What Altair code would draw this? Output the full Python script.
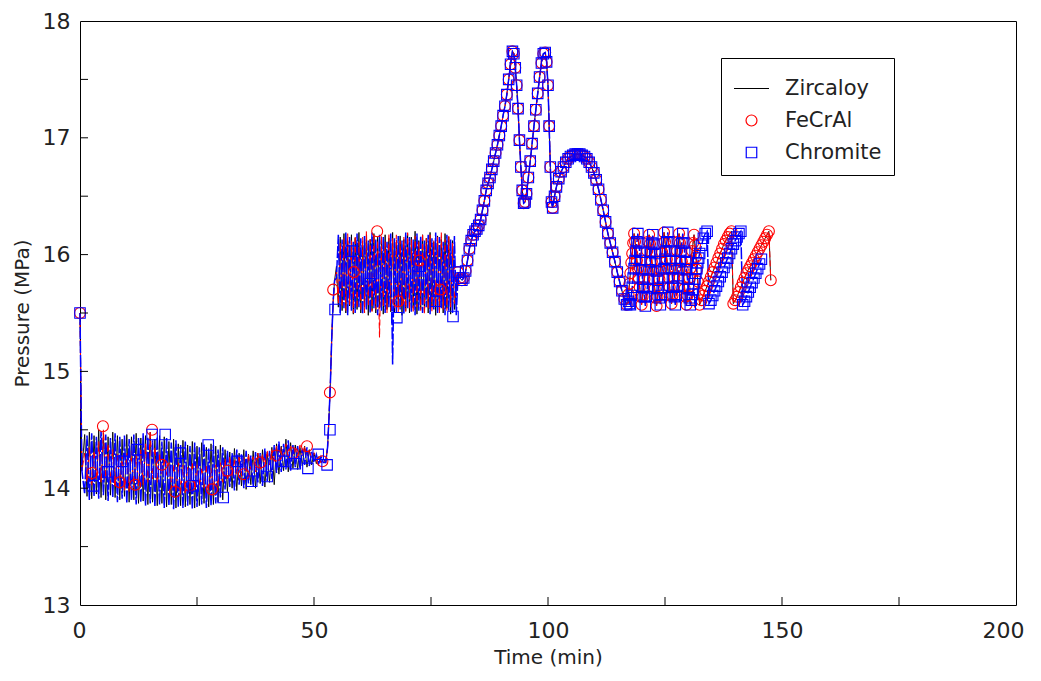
import altair as alt
import pandas as pd

# ---------------- series names ----------------
names = ["Zircaloy", "FeCrAl", "Chromite"]
colors = ["#000000", "#ff0000", "#0000ff"]

# ---------------- segment A: 0 - 52 min (oscillating, ~14 MPa) ----------------
a0_t = [0.0, 0.4]
a0_p = [15.5, 14.15]

a_t = [1.0, 1.5, 2.0, 2.5, 3.0, 3.5, 4.0, 4.5, 5.0, 5.5,
       6.0, 6.5, 7.0, 7.5, 8.0, 8.5, 9.0, 9.5, 10.0, 10.5,
       11.0, 11.5, 12.0, 12.5, 13.0, 13.5, 14.0, 14.5, 15.0, 15.5,
       16.0, 16.5, 17.0, 17.5, 18.0, 18.5, 19.0, 19.5, 20.0, 20.5,
       21.0, 21.5, 22.0, 22.5, 23.0, 23.5, 24.0, 24.5, 25.0, 25.5,
       26.0, 26.5, 27.0, 27.5, 28.0, 28.5, 29.0, 29.5, 30.0, 30.5,
       31.0, 31.5, 32.0, 32.5, 33.0, 33.5, 34.0, 34.5, 35.0, 35.5,
       36.0, 36.5, 37.0, 37.5, 38.0, 38.5, 39.0, 39.5, 40.0, 40.5,
       41.0, 41.5, 42.0, 42.5, 43.0, 43.5, 44.0, 44.5, 45.0, 45.5,
       46.0, 46.5, 47.0, 47.5, 48.0, 48.5, 49.0, 49.5, 50.0, 50.5,
       51.0, 51.5, 52.0]

zirc_a = [14.46, 13.93, 14.48, 13.91, 14.45, 13.95, 14.50, 13.92, 14.47, 13.90,
          14.44, 13.94, 14.48, 13.92, 14.45, 13.90, 14.42, 13.93, 14.46, 13.88,
          14.44, 13.90, 14.47, 13.87, 14.43, 13.89, 14.45, 13.86, 14.48, 13.88,
          14.42, 13.85, 14.45, 13.87, 14.44, 13.84, 14.40, 13.86, 14.42, 13.83,
          14.38, 13.85, 14.41, 13.84, 14.37, 13.86, 14.40, 13.83, 14.36, 13.85,
          14.39, 13.87, 14.35, 13.84, 14.38, 13.86, 14.36, 13.88, 14.37, 13.90,
          14.33, 13.97, 14.31, 14.00, 14.34, 13.98, 14.30, 14.02, 14.33, 13.99,
          14.29, 14.03, 14.32, 14.00, 14.30, 14.04, 14.33, 14.01, 14.31, 14.05,
          14.35, 14.03, 14.38, 14.12, 14.36, 14.15, 14.42, 14.14, 14.39, 14.17,
          14.37, 14.16, 14.35, 14.19, 14.36, 14.18, 14.33, 14.20, 14.30, 14.21,
          14.27, 14.22, 14.25]

fecral_a = [14.30, 14.05, 14.35, 14.02, 14.32, 14.08, 14.40, 14.05, 14.50, 14.08,
            14.38, 14.04, 14.33, 14.02, 14.30, 14.00, 14.28, 13.98, 14.30, 13.97,
            14.32, 14.00, 14.29, 14.02, 14.33, 14.03, 14.38, 14.05, 14.48, 14.08,
            14.35, 14.05, 14.30, 14.12, 14.25, 14.10, 14.22, 14.00, 14.20, 13.97,
            14.22, 13.98, 14.20, 13.96, 14.18, 13.98, 14.22, 14.00, 14.20, 14.02,
            14.18, 14.00, 14.20, 13.98, 14.17, 13.99, 14.20, 14.02, 14.22, 14.05,
            14.25, 14.08, 14.27, 14.10, 14.25, 14.12, 14.28, 14.10, 14.26, 14.13,
            14.29, 14.15, 14.27, 14.14, 14.30, 14.16, 14.29, 14.18, 14.32, 14.20,
            14.33, 14.22, 14.36, 14.24, 14.35, 14.26, 14.38, 14.25, 14.36, 14.27,
            14.35, 14.26, 14.37, 14.28, 14.36, 14.27, 14.33, 14.25, 14.30, 14.24,
            14.27, 14.22, 14.24]

chrom_a = [13.95, 14.45, 13.90, 14.47, 13.93, 14.44, 13.91, 14.49, 13.94, 14.46,
           13.89, 14.43, 13.92, 14.47, 13.88, 14.44, 13.91, 14.45, 13.87, 14.42,
           13.90, 14.46, 13.86, 14.43, 13.88, 14.47, 13.85, 14.44, 13.87, 14.41,
           13.84, 14.44, 13.86, 14.40, 13.83, 14.43, 13.85, 14.39, 13.82, 14.41,
           13.84, 14.37, 13.83, 14.40, 13.85, 14.36, 13.82, 14.39, 13.84, 14.35,
           13.86, 14.38, 13.83, 14.34, 13.85, 14.37, 13.87, 14.33, 13.92, 14.35,
           13.99, 14.32, 14.01, 14.30, 13.98, 14.33, 14.03, 14.29, 14.00, 14.32,
           14.04, 14.28, 14.01, 14.31, 14.05, 14.30, 14.02, 14.34, 14.06, 14.32,
           14.08, 14.37, 14.13, 14.40, 14.14, 14.38, 14.16, 14.41, 14.15, 14.37,
           14.18, 14.36, 14.17, 14.34, 14.20, 14.35, 14.19, 14.31, 14.22, 14.29,
           14.21, 14.27, 14.22]

# ---------------- segment B: pressure jump (shared) ----------------
b_t = [52.5, 52.9, 53.2, 53.5, 53.8, 54.1, 54.4]
b_p = [14.22, 14.35, 14.60, 14.90, 15.30, 15.60, 15.78]

# ---------------- segment C: 55 - 80 min (oscillating, ~15.8 MPa) ----------------
c_t = [54.8, 55.2, 55.6, 56.0, 56.4, 56.8, 57.2, 57.6, 58.0, 58.4,
       58.8, 59.2, 59.6, 60.0, 60.4, 60.8, 61.2, 61.6, 62.0, 62.4,
       62.8, 63.2, 63.6, 64.0, 64.4, 64.8, 65.2, 65.6, 66.0, 66.4,
       66.8, 67.2, 67.6, 68.0, 68.4, 68.8, 69.2, 69.6, 70.0, 70.4,
       70.8, 71.2, 71.6, 72.0, 72.4, 72.8, 73.2, 73.6, 74.0, 74.4,
       74.8, 75.2, 75.6, 76.0, 76.4, 76.8, 77.2, 77.6, 78.0, 78.4,
       78.8, 79.2, 79.6, 80.0, 80.4]

zirc_c = [15.90, 15.55, 16.15, 15.52, 16.18, 15.50, 16.12, 15.56, 16.17, 15.49,
          16.14, 15.53, 16.19, 15.50, 16.10, 15.55, 16.16, 15.48, 16.13, 15.52,
          16.18, 15.50, 16.15, 15.54, 16.12, 15.49, 16.17, 15.53, 16.14, 15.51,
          16.19, 15.50, 16.11, 15.55, 16.16, 15.48, 16.13, 15.52, 16.18, 15.50,
          16.15, 15.54, 16.20, 15.49, 16.12, 15.53, 16.17, 15.51, 16.14, 15.50,
          16.19, 15.55, 16.11, 15.48, 16.16, 15.52, 16.13, 15.50, 16.18, 15.54,
          16.15, 15.49, 16.12, 15.53, 15.70]

fecral_c = [15.85, 15.58, 16.10, 15.55, 16.14, 15.52, 16.18, 15.57, 16.12, 15.50,
            16.16, 15.54, 16.11, 15.52, 16.15, 15.50, 16.20, 15.56, 16.13, 15.51,
            16.17, 15.53, 16.12, 15.29, 16.16, 15.55, 16.11, 15.50, 16.18, 15.52,
            16.14, 15.54, 16.17, 15.50, 16.12, 15.56, 16.15, 15.51, 16.19, 15.53,
            16.13, 15.50, 16.16, 15.55, 16.11, 15.52, 16.18, 15.49, 16.14, 15.54,
            16.17, 15.51, 16.12, 15.56, 16.15, 15.50, 16.19, 15.53, 16.13, 15.52,
            16.16, 15.55, 16.10, 15.58, 15.75]

chrom_c = [15.80, 16.17, 15.50, 16.13, 15.54, 16.19, 15.48, 16.15, 15.52, 16.11,
           15.50, 16.18, 15.55, 16.14, 15.49, 16.16, 15.53, 16.12, 15.50, 16.19,
           15.54, 16.13, 15.48, 16.17, 15.52, 16.15, 15.50, 16.11, 15.55, 16.18,
           15.06, 16.14, 15.50, 16.16, 15.53, 16.12, 15.49, 16.19, 15.54, 16.15,
           15.51, 16.13, 15.48, 16.18, 15.52, 16.16, 15.50, 16.12, 15.55, 16.17,
           15.49, 16.14, 15.53, 16.19, 15.50, 16.15, 15.54, 16.11, 15.48, 16.17,
           15.52, 16.13, 15.50, 16.16, 15.48]

# ---------------- segment D: 81 - 117 min (double peak and hump, shared) ----------------
d_t = [80.8, 81.2, 81.6, 82.0, 82.4, 82.8, 83.2, 83.6, 84.0, 84.4,
       84.8, 85.2, 85.6, 86.0, 86.4, 86.8, 87.2, 87.6, 88.0, 88.4,
       88.8, 89.2, 89.6, 90.0, 90.4, 90.8, 91.2, 91.6, 92.0, 92.4,
       92.7, 93.0, 93.3, 93.6, 93.9, 94.2, 94.5, 94.8, 95.1, 95.4,
       95.8, 96.2, 96.6, 97.0, 97.4, 97.8, 98.2, 98.6, 99.0, 99.4,
       99.7, 100.0, 100.25, 100.5, 100.75, 101.0, 101.4, 101.8, 102.3, 102.8,
       103.3, 103.8, 104.3, 104.8, 105.3, 105.8, 106.3, 106.8, 107.3, 107.8,
       108.3, 108.8, 109.3, 109.8, 110.3, 110.8, 111.3, 111.8, 112.3, 112.8,
       113.3, 113.8, 114.3, 114.8, 115.3, 115.8, 116.3, 116.8]
d_p = [15.85, 15.80, 15.78, 15.80, 15.86, 15.95, 16.05, 16.12, 16.17, 16.20,
       16.22, 16.25, 16.30, 16.38, 16.46, 16.55, 16.61, 16.66, 16.73, 16.80,
       16.87, 16.94, 17.02, 17.10, 17.19, 17.27, 17.37, 17.50, 17.63, 17.74,
       17.72, 17.60, 17.45, 17.25, 16.98, 16.75, 16.55, 16.44, 16.45, 16.52,
       16.66, 16.80, 16.95, 17.10, 17.24, 17.38, 17.52, 17.64, 17.72, 17.73,
       17.65, 17.45, 17.10, 16.75, 16.45, 16.40, 16.50, 16.58, 16.65, 16.71,
       16.75, 16.79, 16.82, 16.84, 16.85, 16.86, 16.86, 16.86, 16.85, 16.84,
       16.82, 16.79, 16.75, 16.70, 16.64, 16.56, 16.47, 16.38, 16.28, 16.18,
       16.10, 16.02, 15.94, 15.85, 15.77, 15.69, 15.62, 15.57]

# ---------------- segment E1: 117 - 132 min (fast zig-zag) ----------------
e1_t = [117.2, 117.4, 117.6, 117.8, 118.0, 118.2, 118.4, 118.6, 118.8, 119.0,
        119.2, 119.4, 119.6, 119.8, 120.0, 120.2, 120.4, 120.6, 120.8, 121.0,
        121.2, 121.4, 121.6, 121.8, 122.0, 122.2, 122.4, 122.6, 122.8, 123.0,
        123.2, 123.4, 123.6, 123.8, 124.0, 124.2, 124.4, 124.6, 124.8, 125.0,
        125.2, 125.4, 125.6, 125.8, 126.0, 126.2, 126.4, 126.6, 126.8, 127.0,
        127.2, 127.4, 127.6, 127.8, 128.0, 128.2, 128.4, 128.6, 128.8, 129.0,
        129.2, 129.4, 129.6, 129.8, 130.0, 130.2, 130.4, 130.6, 130.8, 131.0,
        131.2, 131.4, 131.6, 131.8, 132.0, 132.2]

fecral_e1 = [15.66, 15.75, 15.84, 15.93, 16.01, 16.10, 16.18, 16.11, 16.03, 15.95,
             15.88, 15.80, 15.72, 15.64, 15.57, 15.64, 15.72, 15.79, 15.87, 15.95,
             16.03, 16.11, 16.17, 16.09, 16.02, 15.94, 15.86, 15.79, 15.71, 15.63,
             15.56, 15.64, 15.71, 15.79, 15.87, 15.94, 16.02, 16.10, 16.19, 16.11,
             16.03, 15.96, 15.88, 15.80, 15.72, 15.65, 15.58, 15.65, 15.73, 15.80,
             15.88, 15.96, 16.03, 16.11, 16.18, 16.10, 16.02, 15.94, 15.87, 15.79,
             15.71, 15.64, 15.57, 15.65, 15.72, 15.80, 15.88, 15.95, 16.03, 16.10,
             16.17, 16.08, 15.98, 15.87, 15.77, 15.67]

chrom_e1 = [15.60, 15.58, 15.57, 15.65, 15.72, 15.80, 15.88, 15.95, 16.03, 16.11,
            16.18, 16.10, 16.02, 15.95, 15.87, 15.79, 15.72, 15.64, 15.56, 15.64,
            15.71, 15.79, 15.87, 15.94, 16.02, 16.10, 16.17, 16.09, 16.01, 15.94,
            15.86, 15.78, 15.71, 15.63, 15.57, 15.65, 15.72, 15.80, 15.88, 15.96,
            16.03, 16.11, 16.19, 16.11, 16.03, 15.95, 15.88, 15.80, 15.72, 15.64,
            15.57, 15.65, 15.73, 15.80, 15.88, 15.95, 16.03, 16.10, 16.18, 16.10,
            16.02, 15.94, 15.87, 15.79, 15.71, 15.63, 15.57, 15.61, 15.66, 15.70,
            15.75, 15.79, 15.84, 15.88, 15.93, 15.97]

# ---------------- segment E2: 132 - 148 min (slow saw-tooth ramps) ----------------
e2_t = [132.4, 132.8, 133.2, 133.6, 134.0, 134.4, 134.8, 135.2, 135.6, 136.0,
        136.4, 136.8, 137.2, 137.6, 138.0, 138.4, 138.8, 139.2, 139.6, 140.0,
        140.4, 140.8, 141.2, 141.6, 142.0, 142.4, 142.8, 143.2, 143.6, 144.0,
        144.4, 144.8, 145.2, 145.6, 146.0, 146.4, 146.8, 147.2, 147.6]

fecral_e2 = [15.57, 15.61, 15.65, 15.69, 15.73, 15.77, 15.81, 15.85, 15.89, 15.93,
             15.97, 16.01, 16.05, 16.09, 16.12, 16.15, 16.18, 16.20, 15.58, 15.61,
             15.64, 15.68, 15.72, 15.76, 15.80, 15.84, 15.87, 15.90, 15.93, 15.96,
             15.99, 16.02, 16.05, 16.08, 16.11, 16.14, 16.17, 16.20, 15.78]

chrom_e2 = [16.01, 16.08, 16.14, 16.18, 16.20, 15.58, 15.61, 15.65, 15.69, 15.73,
            15.77, 15.81, 15.85, 15.89, 15.93, 15.97, 16.01, 16.05, 16.09, 16.12,
            16.15, 16.18, 16.20, 15.57, 15.60, 15.64, 15.68, 15.72, 15.76, 15.80,
            15.84, 15.88, 15.92, 15.96, None, None, None, None, None]

# ---------------- sparse markers in the oscillating parts ----------------
fecral_mk_t = [0.0, 2.6, 4.9, 8.5, 11.8, 15.4, 17.5, 20.3, 23.5, 28.2, 31.5, 35.0,
               38.5, 42.0, 45.5, 48.5, 51.8, 53.4, 54.1, 58.5, 63.5, 68.0, 72.5, 77.0]
fecral_mk_p = [15.5, 14.13, 14.53, 14.05, 14.03, 14.50, 14.20, 13.97, 14.02, 13.99, 14.15, 14.12,
               14.22, 14.28, 14.30, 14.36, 14.23, 14.82, 15.70, 15.85, 16.20, 15.60, 15.95, 15.70]

chrom_mk_t = [0.0, 2.8, 6.0, 9.0, 12.2, 15.4, 18.2, 21.4, 24.2, 27.4, 30.6, 33.7, 36.7, 40.0,
              43.4, 46.0, 48.7, 50.9, 52.8, 53.4, 54.5, 58.0, 62.0, 67.7, 72.5, 76.0, 79.7]
chrom_mk_p = [15.5, 14.02, 14.14, 14.23, 14.33, 14.46, 14.46, 14.30, 14.02, 14.37, 13.92, 14.23, 14.06, 14.10,
              14.23, 14.21, 14.17, 14.29, 14.20, 14.50, 15.53, 16.03, 15.75, 15.46, 15.90, 15.60, 15.47]

# ---------------- axis values ----------------
x_labels = [0, 50, 100, 150, 200]
y_labels = [13, 14, 15, 16, 17, 18]
x_ticks = [25, 50, 75, 100, 125, 150, 175]
y_ticks = [13.5, 14, 14.5, 15, 15.5, 16, 16.5, 17, 17.5]

# ---------------- build tables ----------------
all_t = a0_t + a_t + b_t + c_t + d_t + e1_t + e2_t
zirc_p = a0_p + zirc_a + b_p + zirc_c + d_p + fecral_e1 + fecral_e2
fecral_p = a0_p + fecral_a + b_p + fecral_c + d_p + fecral_e1 + fecral_e2
chrom_p = a0_p + chrom_a + b_p + chrom_c + d_p + chrom_e1 + chrom_e2


def frame(ts, ps):
    return pd.DataFrame({"t": ts, "p": ps}).dropna().reset_index(drop=True)


df_z = frame(all_t, zirc_p)
df_f = frame(all_t, fecral_p)
df_c = frame(all_t, chrom_p)

dense_t = d_t + e1_t + e2_t
mk_f = frame(fecral_mk_t + dense_t, fecral_mk_p + d_p + fecral_e1 + fecral_e2)
mk_f["series"] = "FeCrAl"
mk_c = frame(chrom_mk_t + dense_t, chrom_mk_p + d_p + chrom_e1 + chrom_e2)
mk_c["series"] = "Chromite"
df_mk = pd.concat([mk_f, mk_c], ignore_index=True)

FONT = "DejaVu Sans"
TXT = "#222222"
W, H = 936, 584

xs = alt.Scale(domain=[0, 200], nice=False, zero=False)
ys = alt.Scale(domain=[13, 18], nice=False, zero=False)

x_axis = alt.Axis(values=x_labels, tickSize=0, domain=False, grid=False,
                  labelFlush=True, labelFlushOffset=8,
                  labelFontSize=22, labelPadding=15, labelFont=FONT, labelColor=TXT,
                  title="Time (min)", titleFontSize=20, titleFont=FONT, titleColor=TXT,
                  titleFontWeight="normal", titlePadding=6)
y_axis = alt.Axis(values=y_labels, tickSize=0, domain=False, grid=False, labelFlush=False,
                  labelFontSize=22, labelPadding=10, labelFont=FONT, labelColor=TXT,
                  title="Pressure (MPa)", titleFontSize=20, titleFont=FONT, titleColor=TXT,
                  titleFontWeight="normal", titlePadding=10)

X = alt.X("t:Q", scale=xs, axis=x_axis)
Y = alt.Y("p:Q", scale=ys, axis=y_axis)

line_z = alt.Chart(df_z).mark_line(color=colors[0], strokeWidth=0.9).encode(x=X, y=Y, order="t:Q")
line_f = alt.Chart(df_f).mark_line(color=colors[1], strokeWidth=1.1, strokeDash=[6, 3]).encode(x=X, y=Y, order="t:Q")
line_c = alt.Chart(df_c).mark_line(color=colors[2], strokeWidth=1.5, strokeDash=[12, 2]).encode(x=X, y=Y, order="t:Q")


def leg():
    return alt.Legend(title=None, orient="none", legendX=641, legendY=37,
                      fillColor="white", strokeColor="black", padding=12,
                      labelFont=FONT, labelFontSize=21, labelColor=TXT,
                      labelOffset=15, rowPadding=10, symbolStrokeWidth=1.2)


points = alt.Chart(df_mk).mark_point(filled=False, strokeWidth=1.1, opacity=1).encode(
    x=X, y=Y,
    color=alt.Color("series:N", scale=alt.Scale(domain=names, range=colors), legend=leg()),
    shape=alt.Shape("series:N", scale=alt.Scale(domain=names, range=["stroke", "circle", "square"]), legend=leg()),
    size=alt.Size("series:N", scale=alt.Scale(type="ordinal", domain=names, range=[1225, 120, 110]), legend=leg()),
)

tick_x = alt.Chart(pd.DataFrame({"v": x_ticks})).mark_rule(color="black", strokeWidth=1).encode(
    x=alt.X("v:Q", scale=xs, axis=x_axis),
    y=alt.value(H), y2=alt.value(H - 8),
)
tick_y = alt.Chart(pd.DataFrame({"v": y_ticks})).mark_rule(color="black", strokeWidth=1).encode(
    y=alt.Y("v:Q", scale=ys, axis=y_axis),
    x=alt.value(0), x2=alt.value(8),
)

chart = alt.layer(line_z, line_f, line_c, points, tick_x, tick_y).properties(
    width=W, height=H,
    autosize=alt.AutoSizeParams(type="none"),
    padding={"left": 72, "top": 13, "right": 15, "bottom": 65},
    background="white",
).configure_view(stroke="black", strokeWidth=1)

chart.save("out.html", embed_options={"renderer": "svg", "actions": False})
